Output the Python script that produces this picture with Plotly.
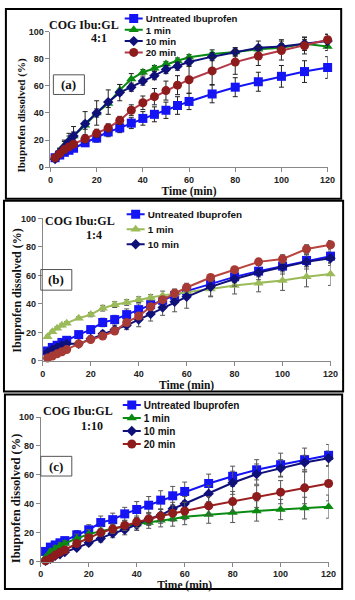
import plotly.graph_objects as go

# ---------------- data ----------------
time_min = [2, 4, 6, 8, 10, 15, 20, 25, 30, 35, 40, 45, 50, 55, 60, 70, 80, 90, 100, 110, 120]
series_names = ["Untreated Ibuprofen", "1 min", "10 min", "20 min"]
x_ticks = [0, 20, 40, 60, 80, 100, 120]
y_ticks = [0, 20, 40, 60, 80, 100]

# Panel (a) COG Ibu:GL 4:1
a_untreated = [7, 9, 11, 12.5, 14, 18, 21.5, 26, 29, 32.5, 36, 39, 42, 45.5, 48.5, 54, 59, 63, 67, 70.5, 73.5]
a_1min = [7, 12, 16, 20, 23, 31, 40, 47, 57, 65, 70, 73, 76, 78.5, 81, 83.5, 85, 87, 88, 91, 89]
a_10min = [6, 11, 15, 19, 23, 32, 40, 48, 55, 59, 63.5, 67.5, 72, 74.5, 77.5, 81.5, 85, 88, 89, 91, 93]
a_20min = [7, 10, 13, 15, 17, 21, 25, 29, 34.5, 42, 47.5, 52, 56.5, 60.5, 64.5, 71, 77.5, 82, 86, 89.5, 94]
a_untreated_err = [1, 1.5, 1.5, 2, 2, 2.5, 3, 3.5, 3.5, 4, 5, 5.5, 6, 6.5, 6, 6.5, 7, 7, 8, 8, 8]
a_1min_err = [1, 2, 3, 3, 3, 3, 3, 3, 4, 4, 2, 2, 2, 2, 2, 3, 3, 3, 3, 3, 3]
a_10min_err = [1, 3, 5, 6, 7, 9, 9, 9, 6, 3, 3, 3, 3, 3, 3, 3, 3, 5, 5, 5, 5]
a_20min_err = [1, 2, 2, 2, 2, 3, 3, 3, 3, 4, 5, 6, 7, 7, 10, 10, 9, 7, 7, 6, 4]

# Panel (b) COG Ibu:GL 1:4
b_untreated = [7, 9.5, 11, 13, 14.5, 18.5, 22, 27, 29, 32.5, 36, 39.5, 42.5, 46, 49, 54, 59, 63, 66.5, 70.5, 73.5]
b_1min = [17, 20.5, 23, 25, 26.5, 30, 32.5, 37, 39.5, 41, 43, 44.5, 46, 47, 48.5, 50.5, 53, 54.5, 56.5, 59, 61]
b_10min = [6, 8, 9.5, 11, 12, 12, 15.5, 19, 22, 25, 29, 33, 37.5, 41.5, 45, 52, 57.5, 62, 66, 69.5, 72]
b_20min = [2, 3.5, 5, 6.5, 8, 12, 15, 17.5, 21, 27, 31.5, 38, 43, 47.5, 51.5, 58.5, 64, 69.5, 71.5, 78.5, 81.5]
b_untreated_err = [1, 1, 1, 1.5, 1.5, 2, 2.5, 3, 3, 4, 4, 4, 4, 4, 4, 4, 4, 4, 4, 4, 5]
b_1min_err = [1, 1, 1, 1, 1, 1, 1.5, 2, 2, 2, 2, 2, 3, 3, 3, 5, 6, 6, 7, 7, 8]
b_10min_err = [1, 1, 1, 1, 1, 1, 2, 2, 3, 3, 5, 5, 5.5, 7, 8, 7, 5, 5, 5, 5, 5]
b_20min_err = [0.5, 0.5, 0.5, 0.5, 0.5, 1, 1, 1, 1.5, 2, 2, 2, 2, 3, 3, 2, 2, 2, 3, 3, 3]

# Panel (c) COG Ibu:GL 1:10
c_untreated = [7, 10, 11.5, 13, 14.5, 18.5, 22, 27, 29, 33, 36, 39, 42.5, 45.5, 48.5, 54, 59, 63.5, 67, 70.5, 73.5]
c_1min = [3, 7, 9, 11, 12.5, 16, 19, 21, 23, 24.5, 26, 27, 28.5, 29.5, 31, 32.5, 34, 35, 36, 37, 38]
c_10min = [0.5, 2, 4, 5, 6.5, 9.5, 13, 16, 19.5, 22, 25.5, 29.5, 32, 36.5, 40, 47, 54.5, 60.5, 64.5, 68.5, 71.5]
c_20min = [0.5, 2, 4.5, 6.5, 8, 12.5, 16.5, 20, 22.5, 25, 27.5, 29.5, 31.5, 33.5, 35, 38.5, 41.5, 45, 48, 51, 54]
c_untreated_err = [1, 1.5, 1.5, 2, 2, 3, 3.5, 4.5, 4.5, 4.5, 5.5, 6, 6.5, 6.5, 6.5, 6.5, 7, 7, 8, 8, 7.5]
c_1min_err = [1, 1.5, 2, 2, 2, 3, 3, 3, 3, 3, 3.5, 4, 4.5, 5, 5.5, 6, 7, 7, 7, 7.5, 8]
c_10min_err = [0.5, 1, 1, 1, 1, 1.5, 2, 2.5, 3, 3.5, 4, 4, 4, 4.5, 5, 5.5, 8, 7, 6, 5, 5]
c_20min_err = [0.5, 1, 1, 1, 1, 1.5, 2, 2.5, 3, 3.5, 4, 4.5, 5, 5.5, 6, 6.5, 7, 7.5, 8, 11, 12]

panel_titles = ["COG Ibu:GL", "COG Ibu:GL", "COG Ibu:GL"]
panel_ratios = ["4:1", "1:4", "1:10"]
panel_labels = ["(a)", "(b)", "(c)"]
x_title = "Time (min)"
y_title = "Ibuprofen dissolved (%)"

# ---------------- styles ----------------
W, H = 355, 600
def px(x):
    return x / W
def py(y):
    return 1 - y / H

SANS = "Liberation Sans, Arial, sans-serif"
SERIF = "Liberation Serif, Times New Roman, serif"

panels = [
    dict(vals=[a_untreated, a_1min, a_10min, a_20min],
         errs=[a_untreated_err, a_1min_err, a_10min_err, a_20min_err],
         colors=["#1414F5", "#0B8A12", "#10107A", "#8E1C1C"],
         lines=["#1414F5", "#0B8A12", "#10107A", "#B23A48"],
         errc="#222222", inlegend=[True, True, True, True],
         xd=[49, 335], yd=[165, 27], legend="legend", lfont=9.6,
         box=[3, 349, 4, 197], tpos=(83.5, 20), rpos=(99, 34), lbox=[52, 84, 71, 91],
         ytpos=(19, 112), ytsize=11),
    dict(vals=[b_untreated, b_1min, b_10min, b_20min],
         errs=[b_untreated_err, b_1min_err, b_10min_err, b_20min_err],
         colors=["#1414F5", "#9BBB59", "#10107A", "#A83A36"],
         lines=["#1414F5", "#9BBB59", "#10107A", "#B8433F"],
         errc="#555555", inlegend=[True, True, True, False],
         xd=[41, 338], yd=[362, 217], legend="legend2", lfont=9.9,
         box=[1, 351, 199, 393], tpos=(79.5, 220), rpos=(94, 234), lbox=[39, 71, 269, 290],
         ytpos=(15, 291), ytsize=12),
    dict(vals=[c_untreated, c_1min, c_10min, c_20min],
         errs=[c_untreated_err, c_1min_err, c_10min_err, c_20min_err],
         colors=["#1414F5", "#0B8A12", "#10107A", "#8E1C1C"],
         lines=["#1414F5", "#0B8A12", "#10107A", "#9A1F1F"],
         errc="#555555", inlegend=[True, True, True, True],
         xd=[39, 336], yd=[566, 419], legend="legend3", lfont=10,
         box=[2, 350, 396, 594], tpos=(77.5, 413), rpos=(92, 428), lbox=[39, 71, 459, 479],
         ytpos=(13, 502), ytsize=12.5),
]
symbols = ["square", "triangle-up", "diamond", "circle"]
sizes = [9, 9, 8, 9]

fig = go.Figure()
shapes = []
annotations = []
layout_axes = {}

for i, p in enumerate(panels):
    n = "" if i == 0 else str(i + 1)
    xa, ya = "x" + n, "y" + n
    for k in range(4):
        fig.add_trace(go.Scatter(
            x=time_min, y=p["vals"][k], name=series_names[k],
            mode="lines+markers", xaxis=xa, yaxis=ya,
            line=dict(color=p["lines"][k], width=2),
            marker=dict(symbol=symbols[k], size=sizes[k], color=p["colors"][k]),
            error_y=dict(type="data", array=p["errs"][k], visible=True,
                         color=p["errc"], thickness=1, width=2.5),
            showlegend=p["inlegend"][k], legend=p["legend"], cliponaxis=False,
        ))
    layout_axes["xaxis" + n] = dict(
        domain=[px(p["xd"][0]), px(p["xd"][1])], anchor=ya, range=[0, 120],
        tickvals=x_ticks, ticks="outside", ticklen=4, tickcolor="#888",
        showline=True, linecolor="#888", linewidth=1, showgrid=False, zeroline=False,
        tickfont=dict(family=SANS, size=9, color="#222", weight="bold"),
        title=dict(text=x_title, standoff=1,
                   font=dict(family=SERIF, size=11.5, color="#111", weight="bold")),
    )
    layout_axes["yaxis" + n] = dict(
        domain=[py(p["yd"][0]), py(p["yd"][1])], anchor=xa, range=[0, 100],
        tickvals=y_ticks, ticks="outside", ticklen=4, tickcolor="#888",
        showline=True, linecolor="#888", linewidth=1, showgrid=False, zeroline=False,
        tickfont=dict(family=SANS, size=9, color="#222", weight="bold"),
    )
    annotations.append(dict(text=y_title, xref="paper", yref="paper",
                            x=px(p["ytpos"][0]), y=py(p["ytpos"][1]), textangle=-90,
                            showarrow=False, xanchor="center", yanchor="middle",
                            font=dict(family=SERIF, size=p["ytsize"], color="#111", weight="bold")))
    b = p["box"]
    shapes.append(dict(type="rect", xref="paper", yref="paper",
                       x0=px(b[0]), x1=px(b[1]), y0=py(b[3]), y1=py(b[2]),
                       line=dict(color="black", width=2)))
    lb = p["lbox"]
    shapes.append(dict(type="rect", xref="paper", yref="paper",
                       x0=px(lb[0]), x1=px(lb[1]), y0=py(lb[3]), y1=py(lb[2]),
                       line=dict(color="#555", width=1)))
    annotations.append(dict(text=panel_labels[i], xref="paper", yref="paper",
                            x=px((lb[0] + lb[1]) / 2), y=py((lb[2] + lb[3]) / 2),
                            showarrow=False, xanchor="center", yanchor="middle",
                            font=dict(family=SERIF, size=13, color="#111", weight="bold")))
    annotations.append(dict(text=panel_titles[i], xref="paper", yref="paper",
                            x=px(p["tpos"][0]), y=py(p["tpos"][1]),
                            showarrow=False, xanchor="center", yanchor="middle",
                            font=dict(family=SERIF, size=12, color="#111", weight="bold")))
    annotations.append(dict(text=panel_ratios[i], xref="paper", yref="paper",
                            x=px(p["rpos"][0]), y=py(p["rpos"][1]),
                            showarrow=False, xanchor="center", yanchor="middle",
                            font=dict(family=SERIF, size=12, color="#111", weight="bold")))

def leg(x, y, fs):
    return dict(x=px(x), y=py(y), xanchor="left", yanchor="top", bgcolor="rgba(0,0,0,0)",
                borderwidth=0, tracegroupgap=0,
                font=dict(family=SANS, size=fs, color="#111", weight="bold"))

fig.update_layout(
    width=W, height=H, margin=dict(l=0, r=0, t=0, b=0),
    paper_bgcolor="white", plot_bgcolor="white",
    legend=leg(106, -1, panels[0]["lfont"]),
    legend2=leg(108, 198, panels[1]["lfont"]),
    legend3=leg(104, 392, panels[2]["lfont"]),
    shapes=shapes, annotations=annotations, **layout_axes,
)

post = """
var gd = document.getElementById('{plot_id}');
var sp = {legend: 11.3, legend2: 15, legend3: 13};
Object.keys(sp).forEach(function(k){
  var lg = gd.querySelector('g.' + k);
  if(!lg) return;
  var items = lg.querySelectorAll('g.traces');
  var y0 = null;
  items.forEach(function(it, i){
    var tr = it.getAttribute('transform') || '';
    var m = /translate\\(([-\\d.eE]+)[ ,]+([-\\d.eE]+)\\)/.exec(tr);
    if(!m) return;
    var x = parseFloat(m[1]), y = parseFloat(m[2]);
    if(y0 === null) y0 = y;
    it.setAttribute('transform', 'translate(' + x + ',' + (y0 + i*sp[k]) + ')');
  });
  lg.querySelectorAll('.legendlines path').forEach(function(p){ p.setAttribute('d', 'M19,0h18'); });
  lg.querySelectorAll('.legendpoints path.scatterpts').forEach(function(p){ p.setAttribute('transform', 'translate(28,0)'); });
});
"""

fig.write_html("out.html", post_script=post)
